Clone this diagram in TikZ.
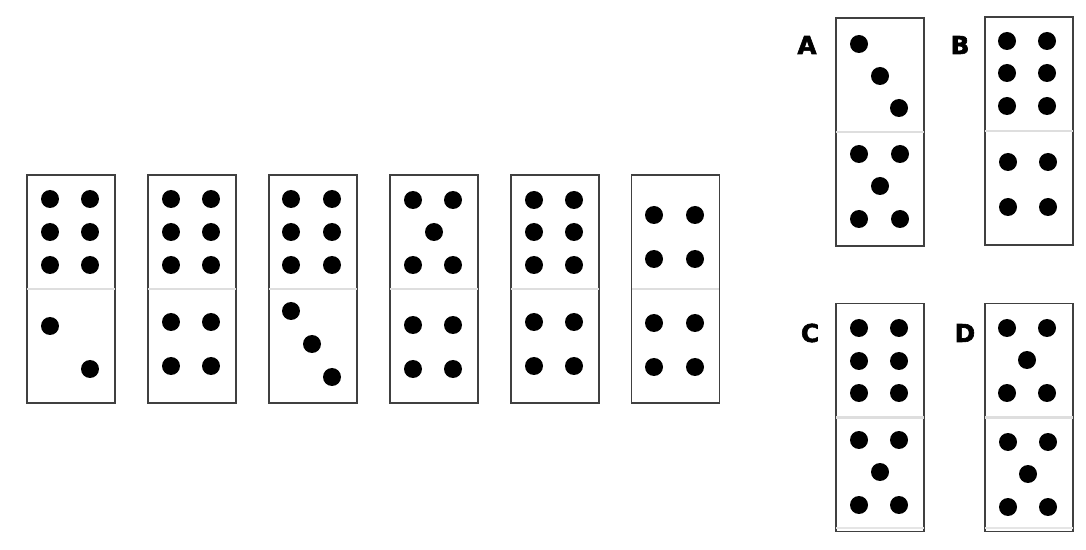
\documentclass[tikz,border=0pt]{standalone}
\usepackage{fontspec}
\newfontfamily\heavyfont[BoldFeatures={FakeBold=2.5}]{DejaVu Sans}

\tikzset{
  domino/.style={draw=black!75, line width=0.6pt, fill=white,
    minimum width=1.76cm, minimum height=4.56cm, inner sep=0pt},
  divider/.style={draw=black!13, line width=1.2pt},
  pip/.style={fill=black},
  letter/.style={font=\heavyfont\bfseries\fontsize{14}{14}\selectfont}
}

\begin{document}
\begin{tikzpicture}[x=0.02cm, y=-0.02cm]
    \useasboundingbox (0,0) rectangle (1086,550);

    % Draw the sequence of dominoes
    \node[domino] (s1) at (71,289) {};
    \node[domino] (s2) at (192,289) {};
    \node[domino] (s3) at (313,289) {};
    \node[domino] (s4) at (434,289) {};
    \node[domino] (s5) at (555,289) {};
    \node[domino] (s6) at (675.5,289) {};

    % Draw the answer dominoes
    \node[domino] (a) at (880,132) {};
    \node[domino] (b) at (1029,131) {};
    \node[domino] (c) at (880,417.5) {};
    \node[domino] (d) at (1029,417.5) {};

    % Draw dividers
    \foreach \n in {s1,s2,s3,s4,s5,s6,a,b,c,d}
        \draw[divider] ([xshift=0.5pt]\n.west) -- ([xshift=-0.5pt]\n.east);
    \draw[divider, draw=black!10] ([xshift=0.5pt,yshift=0.08cm]c.south west) -- ([xshift=-0.5pt,yshift=0.08cm]c.south east);
    \draw[divider, draw=black!10] ([xshift=0.5pt,yshift=0.08cm]d.south west) -- ([xshift=-0.5pt,yshift=0.08cm]d.south east);

    % Draw labels
    \node[letter] (la) at (807,45) {A};
    \node[letter] (lb) at (960,45) {B};
    \node[letter] (lc) at (810,333) {C};
    \node[letter] (ld) at (965,333) {D};

    % Pips of the sequence
    \foreach \x/\y in {50/199, 90/199, 50/232, 90/232, 50/265, 90/265, 50/326, 90/369}
        \fill[pip] (\x,\y) circle[radius=0.18cm];
    \foreach \x/\y in {171/199, 211/199, 171/232, 211/232, 171/265, 211/265,
                       171/322, 211/322, 171/366, 211/366}
        \fill[pip] (\x,\y) circle[radius=0.18cm];
    \foreach \x/\y in {291/199, 332/199, 291/232, 332/232, 291/265, 332/265,
                       291/311, 312/344, 332/377}
        \fill[pip] (\x,\y) circle[radius=0.18cm];
    \foreach \x/\y in {413/200, 453/200, 434/232, 413/265, 453/265,
                       413/325, 453/325, 413/369, 453/369}
        \fill[pip] (\x,\y) circle[radius=0.18cm];
    \foreach \x/\y in {534/200, 574/200, 534/232, 574/232, 534/265, 574/265,
                       534/322, 574/322, 534/366, 574/366}
        \fill[pip] (\x,\y) circle[radius=0.18cm];
    \foreach \x/\y in {654/215, 695/215, 654/259, 695/259,
                       654/323, 695/323, 654/367, 695/367}
        \fill[pip] (\x,\y) circle[radius=0.18cm];

    % Pips of the answers
    \foreach \x/\y in {859/44, 880/76, 899/108,
                       859/154, 900/154, 880/186, 859/219, 900/219}
        \fill[pip] (\x,\y) circle[radius=0.18cm];
    \foreach \x/\y in {1007/41, 1047/41, 1007/73, 1047/73, 1007/106, 1047/106,
                       1008/162, 1048/162, 1008/207, 1048/207}
        \fill[pip] (\x,\y) circle[radius=0.18cm];
    \foreach \x/\y in {859/328, 899/328, 859/361, 899/361, 859/393, 899/393,
                       859/440, 899/440, 880/472, 859/505, 899/505}
        \fill[pip] (\x,\y) circle[radius=0.18cm];
    \foreach \x/\y in {1007/328, 1047/328, 1027/360, 1007/393, 1047/393,
                       1008/442, 1048/442, 1028/474, 1008/507, 1048/507}
        \fill[pip] (\x,\y) circle[radius=0.18cm];
\end{tikzpicture}
\end{document}
